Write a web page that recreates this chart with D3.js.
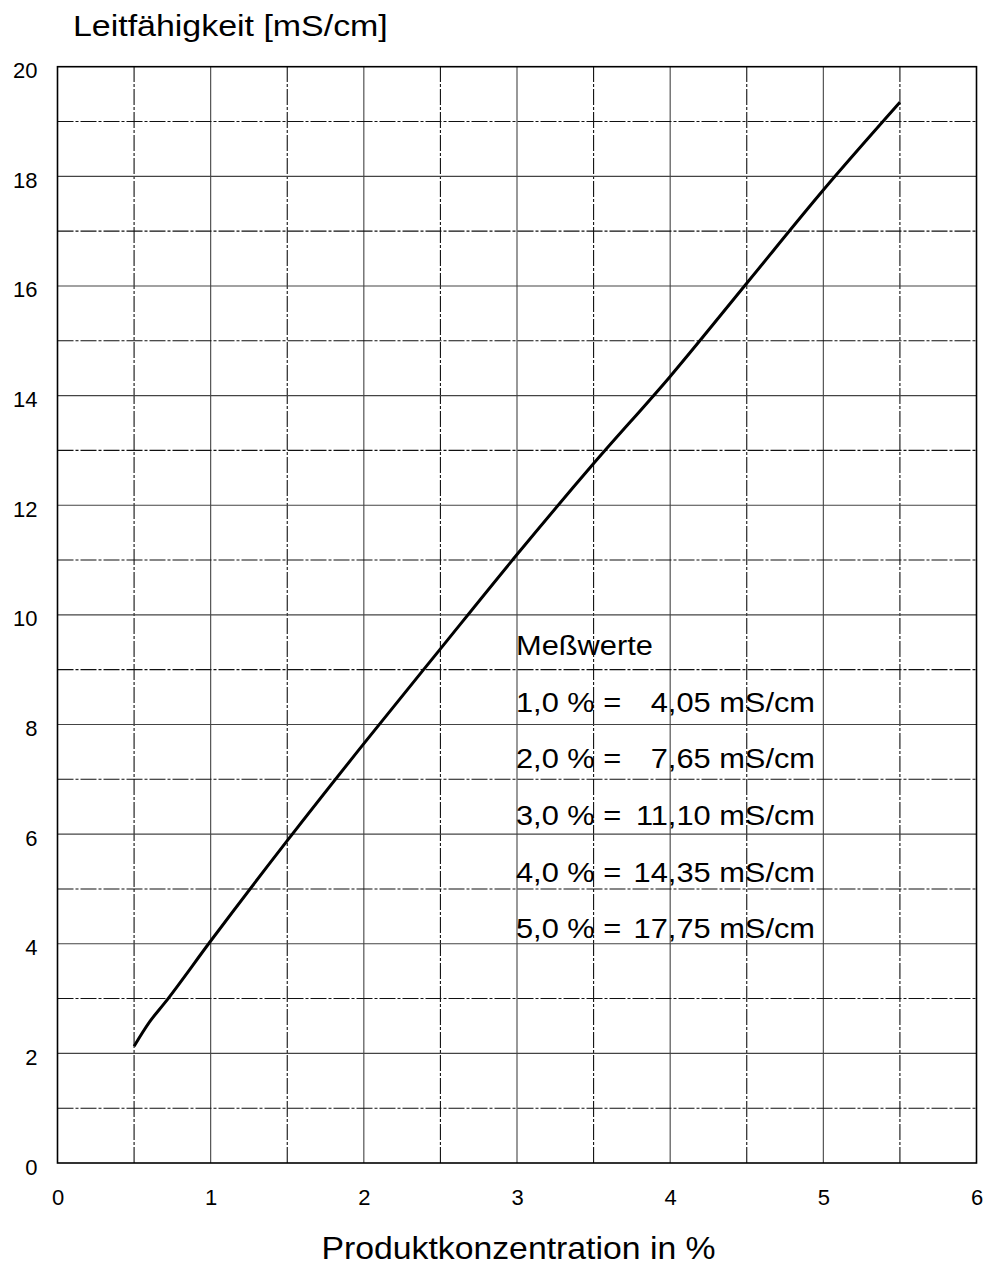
<!DOCTYPE html>
<html><head><meta charset="utf-8">
<script src="https://cdn.jsdelivr.net/npm/d3@7"></script>
<style>
body{margin:0;background:#fff;}
text{font-family:"Liberation Sans",Arial,sans-serif;fill:#000;}
</style></head>
<body>
<svg id="chart" width="988" height="1267"></svg>
<script>
// Data
const concentration = [0.5, 0.6, 0.7, 1.0, 1.5, 2.0, 2.5, 3.0, 3.5, 4.0, 4.5, 5.0, 5.5];
const conductivity  = [2.13, 2.57, 2.92, 4.05, 5.88, 7.65, 9.38, 11.10, 12.76, 14.35, 16.05, 17.75, 19.35];
const xTicks = [0, 1, 2, 3, 4, 5, 6];
const yTicks = [0, 2, 4, 6, 8, 10, 12, 14, 16, 18, 20];
const noteTitle = "Meßwerte";
const noteLeft = ["1,0 % =", "2,0 % =", "3,0 % =", "4,0 % =", "5,0 % ="];
const noteRight = ["4,05 mS/cm", "7,65 mS/cm", "11,10 mS/cm", "14,35 mS/cm", "17,75 mS/cm"];
const yTitle = "Leitfähigkeit [mS/cm]";
const xTitle = "Produktkonzentration in %";

const svg = d3.select("#chart");
const m = {left:57.5, right:976.5, top:66.7, bottom:1163};
const x = d3.scaleLinear().domain([0,6]).range([m.left, m.right]);
const y = d3.scaleLinear().domain([0,20]).range([m.bottom, m.top]);

// grid
const g = svg.append("g");
d3.range(0.5, 6, 0.5).forEach(v => {
  const whole = Math.abs(v - Math.round(v)) < 1e-9;
  g.append("line").attr("x1", x(v)).attr("x2", x(v)).attr("y1", y(0)).attr("y2", y(20))
    .attr("stroke", whole ? "#444" : "#111").attr("stroke-width", 1.1)
    .attr("stroke-dasharray", whole ? null : "16,2,3,2");
});
d3.range(1, 20, 1).forEach(v => {
  const even = v % 2 === 0;
  g.append("line").attr("x1", x(0)).attr("x2", x(6)).attr("y1", y(v)).attr("y2", y(v))
    .attr("stroke", even ? "#444" : "#111").attr("stroke-width", 1.1)
    .attr("stroke-dasharray", even ? null : "16,2,3,2");
});

// frame
svg.append("rect").attr("x", x(0)).attr("y", y(20)).attr("width", x(6)-x(0)).attr("height", y(0)-y(20))
  .attr("fill", "none").attr("stroke", "#000").attr("stroke-width", 1.6);

// axes labels
const xAxis = d3.axisBottom(x).tickValues(xTicks).tickFormat(d3.format("d")).tickSize(0).tickPadding(26);
const xa = svg.append("g").attr("transform", `translate(0,${y(0)})`).call(xAxis);
xa.select(".domain").remove();
xa.selectAll("text").attr("font-size", 22).attr("font-family", "Liberation Sans, Arial, sans-serif").attr("fill","#000");

const yAxis = d3.axisLeft(y).tickValues(yTicks).tickFormat(d3.format("d")).tickSize(0).tickPadding(20);
const ya = svg.append("g").attr("transform", `translate(${x(0)},0)`).call(yAxis);
ya.select(".domain").remove();
ya.selectAll("text").attr("font-size", 22).attr("dy", "0.5em").attr("font-family", "Liberation Sans, Arial, sans-serif").attr("fill","#000");

// titles (slightly stretched horizontally as in the reference)
svg.append("g").attr("transform", "translate(73,36) scale(1.17,1)")
  .append("text").attr("x", 0).attr("y", 0).attr("font-size", 29).text(yTitle);
svg.append("g").attr("transform", "translate(518.5,1259) scale(1.09,1)")
  .append("text").attr("x", 0).attr("y", 0).attr("text-anchor", "middle").attr("font-size", 31).text(xTitle);

// curve
const pts = concentration.map((c,i) => [c, conductivity[i]]);
svg.append("path").datum(pts)
  .attr("d", d3.line().x(d => x(d[0])).y(d => y(d[1])).curve(d3.curveMonotoneX))
  .attr("fill", "none").attr("stroke", "#000").attr("stroke-width", 3);

// note
const nx = 516, ny0 = 655, step = 56.7, sx = 1.1;
const note = svg.append("g").attr("transform", `translate(${nx},0) scale(${sx},1)`);
const endLocal = (815 - nx) / sx;
note.append("text").attr("x", 0).attr("y", ny0).attr("font-size", 28).text(noteTitle);
noteLeft.forEach((t, i) => {
  note.append("text").attr("x", 0).attr("y", ny0 + step*(i+1)).attr("font-size", 28).text(t);
  note.append("text").attr("x", endLocal).attr("y", ny0 + step*(i+1)).attr("text-anchor", "end").attr("font-size", 28).text(noteRight[i]);
});
</script>
</body></html>
